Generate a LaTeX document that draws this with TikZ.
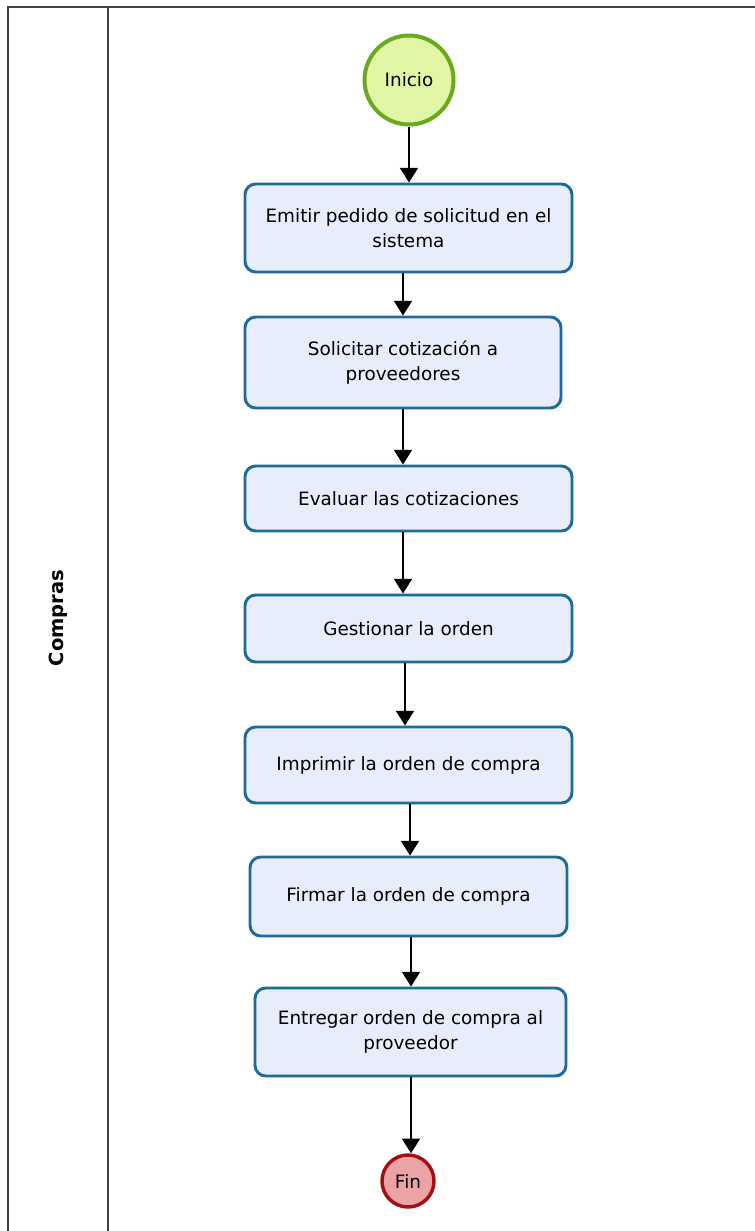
\documentclass[tikz,border=0pt]{standalone}
\usepackage{fontspec}
\setmainfont{DejaVu Sans}
\usetikzlibrary{arrows.meta}
\definecolor{boxfill}{HTML}{E8EDFB}
\definecolor{boxline}{HTML}{1E6A9A}
\definecolor{startfill}{HTML}{E2F7A6}
\definecolor{startline}{HTML}{6AAA1E}
\definecolor{endfill}{HTML}{EBA3A5}
\definecolor{endline}{HTML}{A50F12}
\definecolor{laneline}{HTML}{404040}
\tikzset{
  task/.style={draw=boxline, line width=2.2pt, fill=boxfill, rounded corners=8pt,
    inner sep=0pt, align=center, font=\fontsize{13.8}{18.75}\selectfont},
  arr/.style={draw=black, line width=1.2pt, -{Triangle[width=13.5pt,length=11pt]}},
  lane/.style={draw=laneline, line width=1.8pt},
}
\begin{document}
\begin{tikzpicture}[x=0.75pt,y=-0.75pt]
\useasboundingbox (0,0) rectangle (754,1231);
% lane
\coordinate (tl) at (8,7);
\coordinate (tr) at (760,7);
\coordinate (bl) at (8,1240);
\coordinate (st) at (108,7);
\coordinate (sb) at (108,1240);
\draw[lane] (bl) -- (tl) -- (tr);
\draw[lane] (st) -- (sb);
\node[rotate=90, font=\bfseries\fontsize{14.6}{18}\selectfont] (lanelabel) at (58,618) {Compras};
% events
\node[circle, draw=startline, line width=3pt, fill=startfill, minimum size=89*0.75pt, inner sep=0pt,
  font=\fontsize{13.8}{15}\selectfont] (inicio) at (409,80) {Inicio};
\node[circle, draw=endline, line width=2.6pt, fill=endfill, minimum size=52*0.75pt, inner sep=0pt,
  font=\fontsize{13.8}{15}\selectfont] (fin) at (408,1181) {Fin};
% tasks
\node[task, minimum width=327*0.75pt, minimum height=88*0.75pt] (b1) at (408.5,228) {Emitir pedido de solicitud en el\\sistema};
\node[task, minimum width=316*0.75pt, minimum height=91*0.75pt] (b2) at (403,362.5) {Solicitar cotización a\\proveedores};
\node[task, minimum width=327*0.75pt, minimum height=65*0.75pt] (b3) at (408.5,498.5) {Evaluar las cotizaciones};
\node[task, minimum width=327*0.75pt, minimum height=67*0.75pt] (b4) at (408.5,628.5) {Gestionar la orden};
\node[task, minimum width=327*0.75pt, minimum height=76*0.75pt] (b5) at (408.5,765) {Imprimir la orden de compra};
\node[task, minimum width=317*0.75pt, minimum height=79*0.75pt] (b6) at (408.5,896.5) {Firmar la orden de compra};
\node[task, minimum width=311*0.75pt, minimum height=88*0.75pt] (b7) at (410.5,1032) {Entregar orden de compra al\\proveedor};
% connectors
\draw[arr] (inicio.south) -- (inicio.south |- b1.north);
\draw[arr] (b1.south -| 403,0) -- (b2.north -| 403,0);
\draw[arr] (b2.south -| 403,0) -- (b3.north -| 403,0);
\draw[arr] (b3.south -| 403,0) -- (b4.north -| 403,0);
\draw[arr] (b4.south -| 405,0) -- (b5.north -| 405,0);
\draw[arr] (b5.south -| 410,0) -- (b6.north -| 410,0);
\draw[arr] (b6.south -| 411,0) -- (b7.north -| 411,0);
\draw[arr] (b7.south -| 411,0) -- (fin.north -| 411,0);
\end{tikzpicture}
\end{document}
